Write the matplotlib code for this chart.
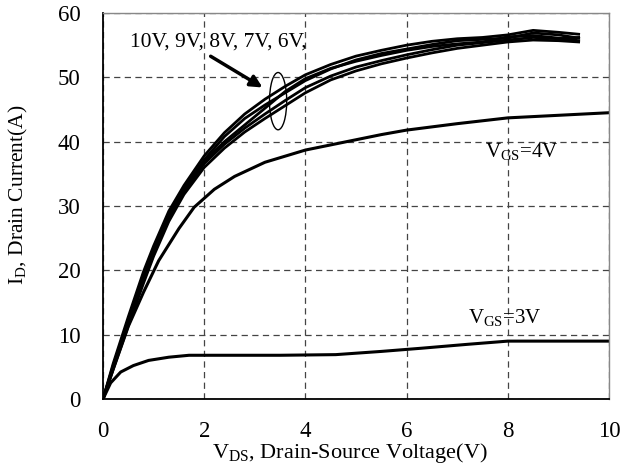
import numpy as np
import matplotlib
matplotlib.use("Agg")
import matplotlib.pyplot as plt
from matplotlib.patches import Ellipse

plt.rcParams['font.family'] = ['Liberation Serif', 'DejaVu Serif']
plt.rcParams['mathtext.fontset'] = 'custom'
plt.rcParams['mathtext.rm'] = 'Liberation Serif'

# output curves, I_D vs V_DS, one per gate voltage
vds_hi = [0, 0.2, 0.5, 0.8, 1.0, 1.3, 1.6, 2.0, 2.4, 2.8, 3.2, 3.6, 4.0,
          4.5, 5.0, 5.5, 6.0, 6.5, 7.0, 7.5, 8.0, 8.5, 9.0, 9.4]
id_10v = [0, 5.5, 12.8, 19.8, 23.8, 29.2, 33.2, 37.8, 41.4, 44.3, 46.6, 48.6,
          50.4, 52.0, 53.3, 54.2, 55.0, 55.6, 56.0, 56.2, 56.6, 57.3, 57.0, 56.7]
id_9v = [0, 5.2, 12.3, 19.2, 23.3, 28.8, 32.6, 37.2, 40.8, 43.6, 45.7, 47.6,
         49.5, 51.3, 52.7, 53.7, 54.4, 55.1, 55.7, 55.9, 56.1, 56.9, 56.6, 56.1]
id_8v = [0, 5.0, 12.0, 18.8, 22.8, 28.4, 32.8, 37.0, 40.0, 42.6, 45.2, 47.8,
         49.8, 51.4, 52.5, 53.4, 54.2, 54.8, 55.2, 55.5, 56.3, 56.5, 56.1, 55.7]
id_7v = [0, 4.8, 11.7, 18.4, 22.5, 28.0, 32.2, 36.6, 39.6, 42.1, 44.3, 46.4,
         48.4, 50.2, 51.6, 52.6, 53.5, 54.3, 55.0, 55.4, 55.8, 56.2, 56.0, 56.2]
id_6v = [0, 4.6, 11.4, 18.0, 22.2, 27.6, 31.8, 36.0, 39.0, 41.5, 43.6, 45.6,
         47.6, 49.6, 51.0, 52.1, 53.0, 53.8, 54.5, 55.0, 55.5, 55.8, 55.7, 55.5]

vds_4v = [0, 0.2, 0.5, 0.8, 1.1, 1.5, 1.8, 2.2, 2.6, 3.2, 4.0, 5.0, 5.5,
          6.0, 7.0, 8.0, 9.0, 10.0]
id_4v = [0, 4.6, 11.3, 16.6, 21.5, 26.5, 29.8, 32.6, 34.6, 36.8, 38.7, 40.3,
         41.1, 41.8, 42.8, 43.7, 44.1, 44.5]

vds_3v = [0, 0.15, 0.35, 0.6, 0.9, 1.3, 1.7, 2.5, 3.5, 4.6, 5.5, 6.3, 7.2,
          8.0, 9.0, 10.0]
id_3v = [0, 2.5, 4.2, 5.2, 6.0, 6.5, 6.8, 6.8, 6.8, 6.9, 7.4, 7.9, 8.5,
         9.0, 9.0, 9.0]

x_ticks = [0, 2, 4, 6, 8, 10]
y_ticks = [0, 10, 20, 30, 40, 50, 60]

fig = plt.figure(figsize=(6.21, 4.73), dpi=100)
ax = fig.add_axes([0.1659, 0.1564, 0.8148, 0.8161])

for y in [id_10v, id_9v, id_8v, id_7v, id_6v]:
    ax.plot(vds_hi, y, color='black', lw=2.0, solid_joinstyle='round')
ax.plot(vds_4v, id_4v, color='black', lw=2.2)
ax.plot(vds_3v, id_3v, color='black', lw=2.2)

ax.set_xlim(0, 10)
ax.set_ylim(0, 60)
ax.set_xticks(x_ticks)
ax.set_yticks(y_ticks)
ax.tick_params(length=0, labelsize=16.5, pad=16)
ax.grid(True, color='#444444', lw=0.9, linestyle=(0, (5, 3.5)))
for side in ['top', 'right']:
    ax.spines[side].set_color('#888888')
    ax.spines[side].set_linewidth(1.0)
for side in ['left', 'bottom']:
    ax.spines[side].set_linewidth(1.3)

ax.set_xlabel(r'V$_{\mathrm{DS}}$, Drain-Source Voltage(V)', fontsize=16)
ax.xaxis.set_label_coords(0.488, -0.14)
ax.xaxis.label.set_va('center')
ax.set_ylabel(r'I$_{\mathrm{D}}$, Drain Current(A)', fontsize=15.5)
ax.yaxis.set_label_coords(-0.168, 0.528)
ax.yaxis.label.set_va('center')

# gate-voltage annotations
ax.text(0.53, 55.5, '10V, 9V, 8V, 7V, 6V,', fontsize=15.5, va='center')
ax.annotate('', xy=(3.2, 48.2), xytext=(2.08, 53.5),
            arrowprops=dict(arrowstyle='-|>,head_length=0.7,head_width=0.35',
                            color='black', lw=2.5))
ax.add_patch(Ellipse((3.46, 46.3), 0.34, 8.9, fill=False, ec='black', lw=1.0))
ax.text(7.55, 38.3, r'V$_{\mathrm{GS}}$=4V', fontsize=15, va='center')
ax.text(7.21, 12.6, r'V$_{\mathrm{GS}}$=3V', fontsize=15, va='center')

fig.savefig('out.png', dpi=100, facecolor='white')
